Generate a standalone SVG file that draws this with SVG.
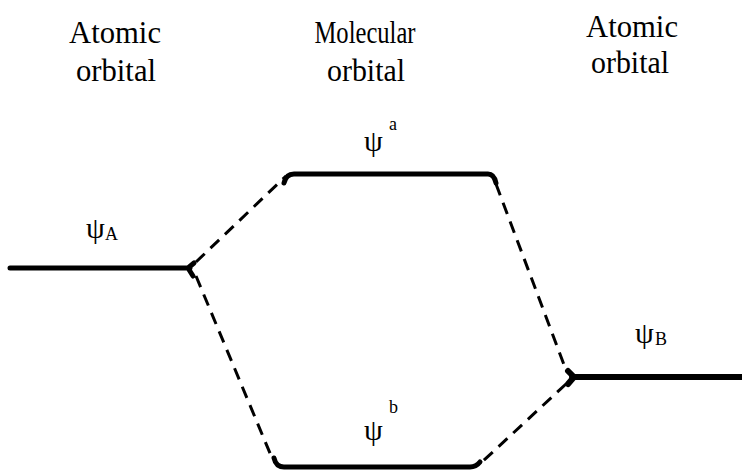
<svg xmlns="http://www.w3.org/2000/svg" width="742" height="472" viewBox="0 0 742 472">
<style>
.t{font-size:32px;fill:#000;text-anchor:middle}
.psi{font-size:30px;fill:#000}
.sub{font-size:18px;fill:#000}
.lvl{fill:none;stroke:#000;stroke-width:5;stroke-linecap:round;stroke-linejoin:round}
.dash{fill:none;stroke:#000;stroke-width:3;stroke-dasharray:12 8}
</style>
<rect width="742" height="472" fill="#fff"/>
<g id="headers" font-family="'Liberation Serif', serif">
<text class="t" font-family="'Liberation Serif'" x="115" y="43" textLength="92" lengthAdjust="spacingAndGlyphs">Atomic</text>
<text class="t" font-family="'Liberation Serif'" x="116" y="81" textLength="80" lengthAdjust="spacingAndGlyphs">orbital</text>
<text class="t" font-family="'Liberation Serif'" x="365" y="43" textLength="101" lengthAdjust="spacingAndGlyphs">Molecular</text>
<text class="t" font-family="'Liberation Serif'" x="366" y="81" textLength="78" lengthAdjust="spacingAndGlyphs">orbital</text>
<text class="t" font-family="'Liberation Serif'" x="632" y="37" textLength="92" lengthAdjust="spacingAndGlyphs">Atomic</text>
<text class="t" font-family="'Liberation Serif'" x="630" y="73" textLength="78" lengthAdjust="spacingAndGlyphs">orbital</text>
</g>
<g id="psiA" font-family="'Liberation Serif', serif">
<path class="lvl" d="M10,268 L190,268 M188,268 L194,263 M188,268 L193,276"/>
<text class="psi" font-family="'Liberation Serif'" x="86" y="238">ψ</text><text class="sub" font-family="'Liberation Serif'" x="105" y="240">A</text>
</g>
<g id="psia" font-family="'Liberation Serif', serif">
<path class="lvl" d="M284,183 Q286,174 294,174 L488,174 Q494,174 496,183"/>
<text class="psi" font-family="'Liberation Serif'" x="364" y="151">ψ</text><text class="sub" font-family="'Liberation Serif'" x="389" y="130">a</text>
</g>
<g id="psiB" font-family="'Liberation Serif', serif">
<path class="lvl" style="stroke-width:6" d="M572,377 L742,377 M574,377 L568,371 M574,377 L568,384"/>
<text class="psi" font-family="'Liberation Serif'" x="635" y="343">ψ</text><text class="sub" font-family="'Liberation Serif'" x="655" y="345">B</text>
</g>
<g id="psib" font-family="'Liberation Serif', serif">
<path class="lvl" d="M274,458 Q276,467 284,467 L470,467 Q476,467 480,462"/>
<text class="psi" font-family="'Liberation Serif'" x="364" y="440">ψ</text><text class="sub" font-family="'Liberation Serif'" x="389" y="413">b</text>
</g>
<g id="connectors">
<path class="dash" d="M196,262 L286,176"/>
<path class="dash" d="M196,276 L272,458"/>
<path class="dash" d="M496,184 L566,370"/>
<path class="dash" d="M566,384 L482,462"/>
</g>
</svg>
